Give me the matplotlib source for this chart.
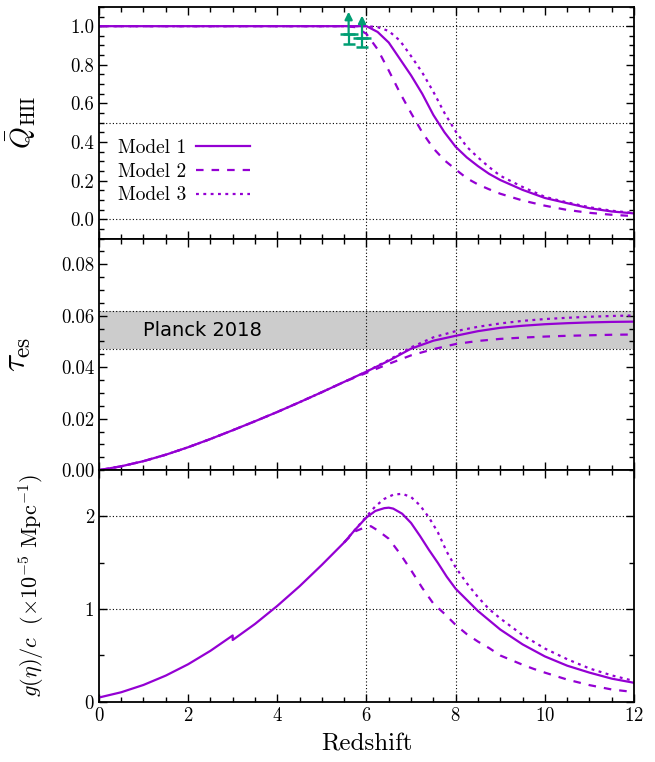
import matplotlib
matplotlib.use("Agg")
import matplotlib.pyplot as plt
from matplotlib.ticker import MultipleLocator, FormatStrFormatter

plt.rcParams["font.family"] = "serif"
plt.rcParams["font.serif"] = ["cmr10"]
plt.rcParams["mathtext.fontset"] = "cm"
plt.rcParams["axes.formatter.use_mathtext"] = True

purple = "#9400d3"
green = "#009e73"

# ionized fraction Q_HII(z)
z_q1 = [0, 2, 4, 5.5, 6.0, 6.25, 6.5, 6.75, 7.0, 7.25, 7.5, 7.75, 8.0, 8.25, 8.5, 8.75,
        9.0, 9.5, 10.0, 10.5, 11.0, 11.5, 12.0]
q1 = [1.0, 1.0, 1.0, 1.0, 1.0, 0.97, 0.915, 0.83, 0.745, 0.65, 0.54, 0.45, 0.375, 0.32,
      0.275, 0.235, 0.203, 0.152, 0.11, 0.083, 0.057, 0.04, 0.03]
z_q2 = [0, 2, 4, 5.5, 5.75, 6.0, 6.25, 6.5, 6.75, 7.0, 7.25, 7.5, 7.75, 8.0, 8.25, 8.5,
        8.75, 9.0, 9.5, 10.0, 10.5, 11.0, 11.5, 12.0]
q2 = [1.0, 1.0, 1.0, 1.0, 0.995, 0.96, 0.88, 0.77, 0.655, 0.55, 0.45, 0.367, 0.305, 0.258,
      0.212, 0.18, 0.155, 0.132, 0.097, 0.07, 0.048, 0.033, 0.023, 0.016]
z_q3 = [0, 2, 4, 5.5, 6.0, 6.25, 6.5, 6.75, 7.0, 7.25, 7.5, 7.75, 8.0, 8.25, 8.5, 8.75,
        9.0, 9.5, 10.0, 10.5, 11.0, 11.5, 12.0]
q3 = [1.0, 1.0, 1.0, 1.0, 1.0, 0.995, 0.975, 0.925, 0.845, 0.76, 0.66, 0.55, 0.455, 0.375,
      0.32, 0.27, 0.225, 0.167, 0.116, 0.087, 0.062, 0.044, 0.032]

# lower limits from dark-pixel fractions
z_obs = [5.6, 5.9]
q_obs = [0.96, 0.94]
q_obs_err = [0.05, 0.05]

# electron scattering optical depth
z_tau = [0, 0.5, 1.0, 1.5, 2.0, 2.5, 3.0, 3.5, 4.0, 4.5, 5.0, 5.5, 6.0, 6.5, 7.0, 7.5,
         8.0, 8.5, 9.0, 9.5, 10.0, 10.5, 11.0, 11.5, 12.0]
tau1 = [0, 0.0015, 0.0035, 0.0060, 0.0089, 0.0121, 0.0155, 0.0190, 0.0226, 0.0264, 0.0303,
        0.0343, 0.0383, 0.0425, 0.0472, 0.0503, 0.0522, 0.0540, 0.0553, 0.0561, 0.0567,
        0.0571, 0.0574, 0.0576, 0.0577]
tau2 = [0, 0.0015, 0.0035, 0.0060, 0.0089, 0.0121, 0.0155, 0.0190, 0.0226, 0.0264, 0.0303,
        0.0343, 0.0378, 0.0413, 0.0446, 0.0470, 0.0490, 0.0502, 0.0510, 0.0515, 0.0519,
        0.0522, 0.0524, 0.0526, 0.0527]
tau3 = [0, 0.0015, 0.0035, 0.0060, 0.0089, 0.0121, 0.0155, 0.0190, 0.0226, 0.0264, 0.0303,
        0.0343, 0.0383, 0.0428, 0.0477, 0.0516, 0.0540, 0.0557, 0.0570, 0.0580, 0.0587,
        0.0592, 0.0596, 0.0599, 0.0601]
planck_tau = 0.0544
planck_err = 0.0073

# visibility function g(eta)/c in 1e-5 Mpc^-1 (HeII reionization step at z=3)
z_low = [0, 0.5, 1.0, 1.5, 2.0, 2.5, 3.0, 3.0, 3.5, 4.0, 4.5, 5.0, 5.5]
g_low = [0.046, 0.103, 0.182, 0.283, 0.405, 0.55, 0.716, 0.667, 0.84, 1.035, 1.247, 1.478,
         1.72]
z_g1 = [5.75, 6.0, 6.2, 6.4, 6.5, 6.6, 6.8, 7.0, 7.2, 7.4, 7.6, 7.8, 8.0, 8.25, 8.5, 8.75,
        9.0, 9.5, 10.0, 10.5, 11.0, 11.5, 12.0]
g1 = [1.86, 1.99, 2.06, 2.09, 2.095, 2.085, 2.03, 1.93, 1.79, 1.64, 1.50, 1.35, 1.22, 1.10,
      0.98, 0.88, 0.78, 0.62, 0.49, 0.39, 0.315, 0.25, 0.205]
z_g2 = [5.75, 6.0, 6.1, 6.25, 6.5, 6.75, 7.0, 7.25, 7.5, 7.75, 8.0, 8.25, 8.5, 8.75, 9.0,
        9.25, 9.5, 9.75, 10.0, 10.5, 11.0, 11.5, 12.0]
g2 = [1.84, 1.89, 1.895, 1.85, 1.76, 1.60, 1.42, 1.23, 1.06, 0.95, 0.83, 0.73, 0.65, 0.58,
      0.50, 0.45, 0.40, 0.355, 0.315, 0.24, 0.18, 0.133, 0.105]
z_g3 = [5.75, 6.0, 6.2, 6.4, 6.6, 6.8, 7.0, 7.2, 7.4, 7.6, 7.8, 8.0, 8.25, 8.5, 8.75, 9.0,
        9.5, 10.0, 10.5, 11.0, 11.5, 12.0]
g3 = [1.86, 2.0, 2.11, 2.19, 2.235, 2.245, 2.21, 2.12, 1.99, 1.83, 1.62, 1.45, 1.28, 1.13,
      1.00, 0.90, 0.72, 0.575, 0.46, 0.36, 0.285, 0.225]

labels = ["Model 1", "Model 2", "Model 3"]
lw = 1.6
styles = [dict(ls="-"), dict(dashes=(3.4, 3.6)), dict(dashes=(1.3, 2.0))]

fig, axes = plt.subplots(3, 1, figsize=(6.55, 7.62), dpi=100, sharex=True)
fig.subplots_adjust(left=0.151, right=0.968, top=0.991, bottom=0.079, hspace=0)
ax1, ax2, ax3 = axes

grid = dict(color="black", ls=(0, (1, 2)), lw=0.8, zorder=1)

# --- Q_HII
for zz, qq, lab, st in zip([z_q1, z_q2, z_q3], [q1, q2, q3], labels, styles):
    ax1.plot(zz, qq, color=purple, lw=lw, label=lab, zorder=3, **st)
for yv in [0.0, 0.5, 1.0]:
    ax1.axhline(yv, **grid)
ax1.errorbar(z_obs, q_obs, yerr=[q_obs_err, [0, 0]], fmt="_", ms=13, mew=1.8,
             color=green, elinewidth=1.6, capsize=4, capthick=1.6, zorder=5)
for zo, qo in zip(z_obs, q_obs):
    ax1.annotate("", xy=(zo, qo + 0.115), xytext=(zo, qo),
                 arrowprops=dict(arrowstyle="-|>", color=green, lw=1.6,
                                 mutation_scale=11, shrinkA=0, shrinkB=0), zorder=5)
ax1.set_ylim(-0.1, 1.1)
ax1.yaxis.set_major_locator(MultipleLocator(0.2))
ax1.yaxis.set_minor_locator(MultipleLocator(0.05))
ax1.yaxis.set_major_formatter(FormatStrFormatter("%.1f"))
ax1.set_ylabel(r"$\bar{Q}_{\rm HII}$", fontsize=20)
ax1.yaxis.set_label_coords(-0.114, 0.5)
ax1.legend(loc="upper left", bbox_to_anchor=(0.035, 0.43), frameon=False,
           markerfirst=False, fontsize=14, handlelength=2.8, handletextpad=0.5,
           labelspacing=0.3, borderaxespad=0, borderpad=0)

# --- tau_es
ax2.axhspan(planck_tau - planck_err, planck_tau + planck_err, color="#cccccc", lw=0, zorder=0)
for yv in [planck_tau - planck_err, planck_tau + planck_err]:
    ax2.axhline(yv, **grid)
for tt, st in zip([tau1, tau2, tau3], styles):
    ax2.plot(z_tau, tt, color=purple, lw=lw, zorder=3, **st)
ax2.text(1.0, planck_tau, "Planck 2018", family="DejaVu Sans", fontsize=14,
         ha="left", va="center", zorder=4)
ax2.set_ylim(0, 0.09)
ax2.yaxis.set_major_locator(MultipleLocator(0.02))
ax2.yaxis.set_minor_locator(MultipleLocator(0.005))
ax2.yaxis.set_major_formatter(FormatStrFormatter("%.2f"))
ax2.set_ylabel(r"$\tau_{\rm es}$", fontsize=24)
ax2.yaxis.set_label_coords(-0.123, 0.5)

# --- visibility function
ax3.plot(z_low + z_g1, g_low + g1, color=purple, lw=lw, zorder=3)
ax3.plot(z_low[-1:] + z_g2, g_low[-1:] + g2, color=purple, lw=lw, zorder=3, **styles[1])
ax3.plot(z_low[-1:] + z_g3, g_low[-1:] + g3, color=purple, lw=lw, zorder=3, **styles[2])
for yv in [1, 2]:
    ax3.axhline(yv, **grid)
ax3.set_ylim(0, 2.5)
ax3.yaxis.set_major_locator(MultipleLocator(1))
ax3.yaxis.set_minor_locator(MultipleLocator(0.5))
ax3.yaxis.set_major_formatter(FormatStrFormatter("%d"))
ax3.set_ylabel(r"$g(\eta)/c\ \ (\times 10^{-5}\ {\rm Mpc}^{-1})$", fontsize=16)
ax3.yaxis.set_label_coords(-0.099, 0.5)
ax3.set_xlabel("Redshift", fontsize=18, labelpad=6)

for ax in axes:
    for xv in [6, 8]:
        ax.axvline(xv, **grid)
    ax.set_xlim(0, 12)
    ax.xaxis.set_major_locator(MultipleLocator(2))
    ax.xaxis.set_minor_locator(MultipleLocator(0.5))
    ax.tick_params(which="both", direction="in", top=True, right=True, labelsize=13.5)
    ax.tick_params(which="major", length=6, width=1.0)
    ax.tick_params(which="minor", length=3.5, width=1.0)
    for sp in ax.spines.values():
        sp.set_linewidth(1.3)
        sp.set_zorder(6)

fig.savefig("out.png", dpi=100)
